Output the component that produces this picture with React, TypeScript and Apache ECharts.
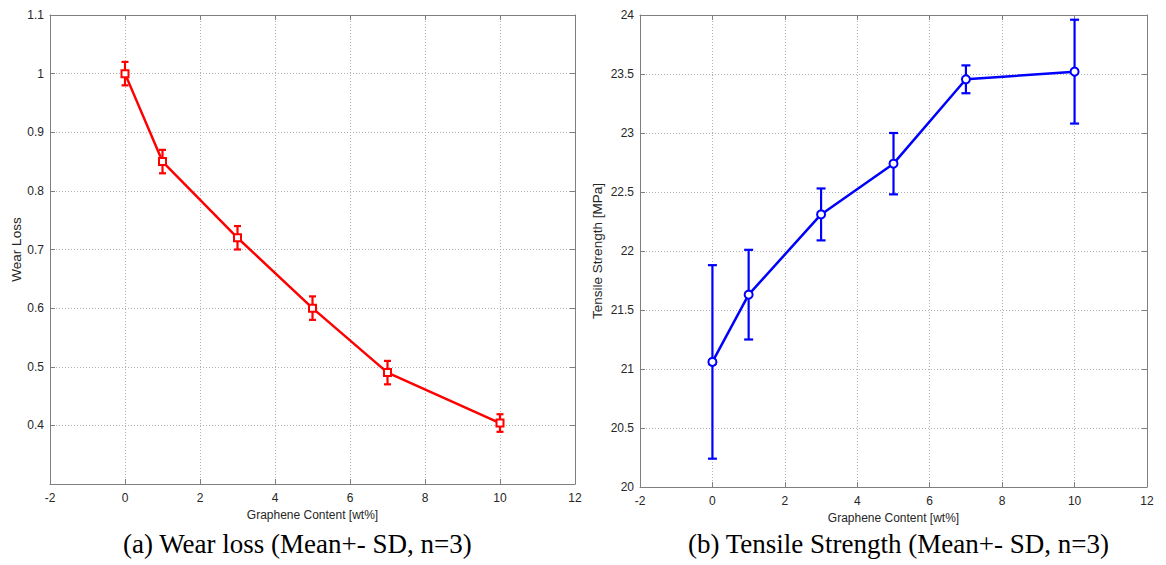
import React, { useEffect, useRef } from "react";
import * as echarts from "echarts";

const graphene = [0, 1, 3, 5, 7, 10];
const wearLoss = [1.0, 0.85, 0.72, 0.6, 0.49, 0.404];
const wearSD = [0.02, 0.02, 0.02, 0.02, 0.02, 0.015];
const tensile = [21.06, 21.63, 22.31, 22.74, 23.455, 23.52];
const tensileSD = [0.82, 0.38, 0.22, 0.26, 0.118, 0.44];

const xTitle = "Graphene Content [wt%]";
const captionA = "(a) Wear loss (Mean+- SD, n=3)";
const captionB = "(b) Tensile Strength (Mean+- SD, n=3)";

const font = "'Liberation Sans', Arial, sans-serif";
const serif = "'Liberation Serif', 'Times New Roman', serif";
const axisColor = "#7f7f7f";
const labelColor = "#262626";

function errorSeries(xi: number, yi: number, color: string, capHalf: number, xs: number[], ys: number[], sd: number[]) {
  return {
    type: "custom",
    xAxisIndex: xi,
    yAxisIndex: yi,
    silent: true,
    z: 3,
    data: xs.map((x, i) => [x, ys[i] - sd[i], ys[i] + sd[i]]),
    renderItem: (params: any, api: any) => {
      const x = api.value(0);
      const lo = api.coord([x, api.value(1)]);
      const hi = api.coord([x, api.value(2)]);
      const w = capHalf;
      const style = { stroke: color, lineWidth: 2.2 };
      return {
        type: "group",
        children: [
          { type: "line", shape: { x1: lo[0], y1: lo[1], x2: hi[0], y2: hi[1] }, style },
          { type: "line", shape: { x1: lo[0] - w, y1: lo[1], x2: lo[0] + w, y2: lo[1] }, style },
          { type: "line", shape: { x1: hi[0] - w, y1: hi[1], x2: hi[0] + w, y2: hi[1] }, style },
        ],
      };
    },
  };
}

function xAxes(gridIndex: number) {
  const common = {
    type: "value",
    gridIndex,
    min: -2,
    max: 12,
    interval: 2,
    axisLine: { show: true, onZero: false, lineStyle: { color: axisColor, width: 1 } },
    axisTick: { show: true, inside: true, length: 5, lineStyle: { color: axisColor } },
  };
  return [
    {
      ...common,
      position: "bottom",
      name: xTitle,
      nameLocation: "middle",
      nameGap: 25,
      nameTextStyle: { fontFamily: font, fontSize: 12, color: labelColor },
      axisLabel: { fontFamily: font, fontSize: 12, color: labelColor, margin: 8 },
      splitLine: { show: true, lineStyle: { type: [1, 2], color: "#b0b0b0", width: 1 } },
    },
    {
      ...common,
      position: "top",
      axisLabel: { show: false },
      splitLine: { show: false },
    },
  ];
}

function yAxes(gridIndex: number, min: number, max: number, interval: number, name: string, nameGap: number, showMin: boolean) {
  const common = {
    type: "value",
    gridIndex,
    min,
    max,
    interval,
    axisLine: { show: true, onZero: false, lineStyle: { color: axisColor, width: 1 } },
    axisTick: { show: true, inside: true, length: 5, lineStyle: { color: axisColor } },
  };
  return [
    {
      ...common,
      position: "left",
      name,
      nameLocation: "middle",
      nameGap,
      nameTextStyle: { fontFamily: font, fontSize: 13.5, color: labelColor },
      axisLabel: {
        fontFamily: font,
        fontSize: 12,
        color: labelColor,
        margin: 6,
        showMinLabel: showMin,
        formatter: (v: number) => String(parseFloat(v.toFixed(2))),
      },
      splitLine: { show: true, lineStyle: { type: [1, 2], color: "#b0b0b0", width: 1 } },
    },
    {
      ...common,
      position: "right",
      axisLabel: { show: false },
      splitLine: { show: false },
    },
  ];
}

export default function App() {
  const ref = useRef<HTMLDivElement>(null);
  useEffect(() => {
    if (!ref.current) return;
    const chart = echarts.init(ref.current, undefined, { renderer: "svg" });
    chart.setOption({
      animation: false,
      backgroundColor: "#ffffff",
      grid: [
        { left: 50, top: 15, width: 525, height: 469, show: false },
        { left: 640, top: 15, width: 507, height: 472, show: false },
      ],
      xAxis: [...xAxes(0), ...xAxes(1)],
      yAxis: [
        ...yAxes(0, 0.3, 1.1, 0.1, "Wear Loss", 26, false),
        ...yAxes(1, 20, 24, 0.5, "Tensile Strength [MPa]", 36, true),
      ],
      series: [
        errorSeries(0, 0, "#ff0000", 3.5, graphene, wearLoss, wearSD),
        {
          type: "line",
          xAxisIndex: 0,
          yAxisIndex: 0,
          data: graphene.map((x, i) => [x, wearLoss[i]]),
          lineStyle: { color: "#ff0000", width: 2.5 },
          symbol: "emptyRect",
          symbolSize: 7,
          itemStyle: { color: "#ff0000", borderColor: "#ff0000", borderWidth: 2 },
          z: 4,
        },
        errorSeries(2, 2, "#0000ff", 4.5, graphene, tensile, tensileSD),
        {
          type: "line",
          xAxisIndex: 2,
          yAxisIndex: 2,
          data: graphene.map((x, i) => [x, tensile[i]]),
          lineStyle: { color: "#0000ff", width: 2.5 },
          symbol: "emptyCircle",
          symbolSize: 8,
          itemStyle: { color: "#0000ff", borderColor: "#0000ff", borderWidth: 2 },
          z: 4,
        },
      ],
      graphic: [
        {
          type: "text",
          left: 123,
          top: 530,
          style: { text: captionA, fontFamily: serif, fontSize: 27, fill: "#000" },
        },
        {
          type: "text",
          left: 688,
          top: 530,
          style: { text: captionB, fontFamily: serif, fontSize: 27, fill: "#000" },
        },
      ],
    });
    return () => chart.dispose();
  }, []);
  return <div ref={ref} style={{ position: "fixed", left: 0, top: 0, width: 1166, height: 565 }} />;
}
